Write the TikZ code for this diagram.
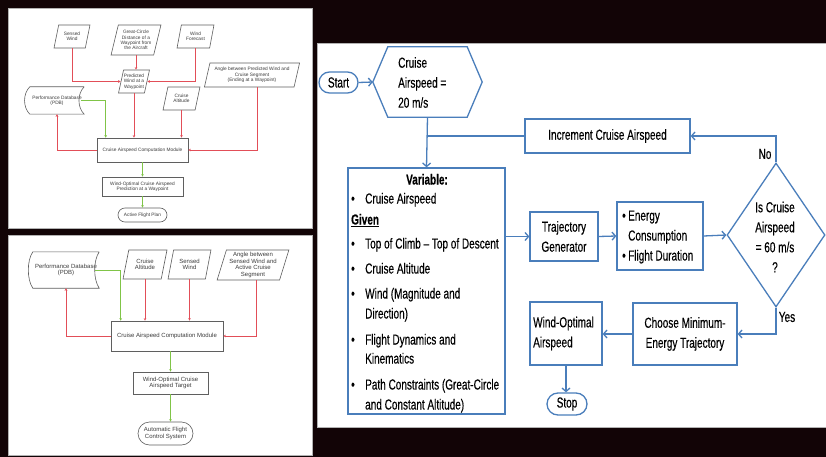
\documentclass[tikz,border=0pt]{standalone}
\usepackage{fontspec}
\setmainfont[FakeStretch=0.69,FakeBold=0.3]{Liberation Sans}
\newfontfamily\lsans{Liberation Sans}
\usetikzlibrary{shapes.geometric,shapes.misc,arrows.meta,calc}
\definecolor{bg}{RGB}{18,4,6}
\definecolor{bl}{RGB}{74,126,187}
\definecolor{rl}{RGB}{226,78,88}
\definecolor{gl}{RGB}{128,196,72}
\definecolor{bx}{RGB}{95,95,95}
\definecolor{tx}{RGB}{60,60,60}
\begin{document}
\begin{tikzpicture}[x=1pt,y=-1pt,
  panel/.style={fill=white,draw=gray!60,line width=0.8pt},
  lbox/.style={draw=bx,line width=0.6pt,fill=white,text=tx,align=center,inner sep=0pt},
  lsmall/.style={font=\lsans\fontsize{4.8}{5.3}\selectfont},
  lbig/.style={font=\lsans\fontsize{6}{6.6}\selectfont},
  para/.style={lbox,trapezium,trapezium left angle=72,trapezium right angle=108,trapezium stretches=true},
  lrect/.style={lbox,rectangle},
  lterm/.style={lbox,rounded rectangle},
  ltext/.style={text=tx,align=center,inner sep=0pt},
  dbline/.style={draw=bx,line width=0.6pt},
  rarr/.style={draw=rl,line width=0.6pt,-{Stealth[length=2.6pt,width=2.6pt]}},
  garr/.style={draw=gl,line width=0.6pt,-{Stealth[length=2.6pt,width=2.6pt]}},
  rbox/.style={draw=bl,line width=1.3pt,fill=white,font=\fontsize{14.5}{20}\selectfont,align=center,inner sep=0pt},
  rterm/.style={rbox,rounded rectangle},
  rtxt/.style={font=\fontsize{14.5}{20}\selectfont,inner sep=0pt},
  barr/.style={draw=bl,line width=1.3pt,-{Straight Barb[length=3.5pt,width=8pt]}},
  bline/.style={draw=bl,line width=1.3pt}
]
\useasboundingbox (0,0) rectangle (826,457);
\fill[bg] (0,0) rectangle (826,457);
\filldraw[panel] (8,8) rectangle (312,228);
\filldraw[panel] (8,235) rectangle (312,455);
\filldraw[panel] (317,43) rectangle (827,427);

% ---------------- top-left panel ----------------
\node[para,lsmall,minimum width=36pt,minimum height=23pt] (sw) at (72,36.5) {Sensed\\Wind};
\node[para,lsmall,minimum width=50pt,minimum height=30pt] (gc) at (136,40) {Great-Circle\\Distance of a\\Waypoint from\\the Aircraft};
\node[para,lsmall,minimum width=37pt,minimum height=23pt] (wf) at (195.5,36.5) {Wind\\Forecast};
\node[para,lsmall,minimum width=31pt,minimum height=23pt] (pw) at (134,81.5) {Predicted\\Wind at a\\Waypoint};
\node[para,lsmall,minimum width=96pt,minimum height=24pt] (an) at (252,75) {Angle between Predicted Wind and\\Cruise Segment\\(Ending at a Waypoint)};
\node[ltext,lsmall,minimum width=54pt,minimum height=27pt] (pdb) at (57,100.5) {Performance Database\\(PDB)};
\draw[dbline] (pdb.north east) -- (pdb.north west) .. controls +(-7,7) and +(-7,-7) .. (pdb.south west) -- (pdb.south east) .. controls +(-7,-7) and +(-7,7) .. (pdb.north east);
\node[para,lsmall,minimum width=37pt,minimum height=23pt] (ca) at (181.5,98.5) {Cruise\\Altitude};
\node[lrect,lsmall,minimum width=91pt,minimum height=24pt] (cm) at (142.5,150) {Cruise Airspeed Computation Module};
\node[lrect,lsmall,minimum width=81pt,minimum height=19pt] (wo) at (142.5,186.5) {Wind-Optimal Cruise Airspeed\\Prediction at a Waypoint};
\node[lterm,lsmall,minimum width=49pt,minimum height=14pt] (afp) at (142.5,215) {Active Flight Plan};

\draw[rarr] (sw.south) |- (pw.west);
\draw[rarr] (gc.south) -- (gc.south |- pw.north);
\draw[rarr] (wf.south) |- (pw.east);
\draw[rarr] (pw.south) -- (pw.south |- cm.north);
\draw[rarr] (ca.south) -- (ca.south |- cm.north);
\draw[rarr] ([xshift=5pt]an.south) |- (cm.east);
\draw[garr] ([xshift=-3pt]pdb.east) -| ([xshift=9pt]cm.north west);
\draw[rarr] (cm.west) -| (pdb.south);
\draw[garr] (cm.south) -- (wo.north);
\draw[garr] (wo.south) -- (afp.north);

% ---------------- bottom-left panel ----------------
\node[ltext,lbig,minimum width=66pt,minimum height=36pt] (pdb2) at (66,270) {Performance Database\\(PDB)};
\draw[dbline] (pdb2.north east) -- (pdb2.north west) .. controls +(-6,9) and +(-6,-9) .. (pdb2.south west) -- (pdb2.south east) .. controls +(-6,-9) and +(-6,9) .. (pdb2.north east);
\node[para,lbig,minimum width=44pt,minimum height=29pt] (ca2) at (145,264.5) {Cruise\\Altitude};
\node[para,lbig,minimum width=43pt,minimum height=29pt] (sw2) at (189.5,264.5) {Sensed\\Wind};
\node[para,lbig,minimum width=72pt,minimum height=30pt] (an2) at (253,265) {Angle between\\Sensed Wind and\\Active Cruise\\Segment};
\node[lrect,lbig,minimum width=112pt,minimum height=30pt] (cm2) at (167,336) {Cruise Airspeed Computation Module};
\node[lrect,lbig,minimum width=75pt,minimum height=22pt] (wt) at (170.5,383) {Wind-Optimal Cruise\\Airspeed Target};
\node[lterm,lbig,minimum width=55pt,minimum height=23pt] (afcs) at (165.5,433.5) {Automatic Flight\\Control System};

\draw[garr] ([xshift=-4pt]pdb2.east) -| ([xshift=10pt]cm2.north west);
\draw[rarr] (ca2.south) -- (ca2.south |- cm2.north);
\draw[rarr] (sw2.south) -- (sw2.south |- cm2.north);
\draw[rarr] ([xshift=3pt]an2.south) |- (cm2.east);
\draw[rarr] (cm2.west) -| (pdb2.south);
\draw[garr] (wt.north |- cm2.south) -- (wt.north);
\draw[garr] (wt.south) -- (wt.south |- afcs.north);

% ---------------- right panel ----------------
\node[rterm,minimum width=39pt,minimum height=21pt] (start) at (338.5,82.5) {Start};
\node[minimum width=109pt,minimum height=70pt,inner sep=0pt] (hex) at (427.5,82) {};
\draw[bline,fill=white] (hex.west) -- ([xshift=15pt]hex.north west) -- ([xshift=-15pt]hex.north east) -- (hex.east) -- ([xshift=-15pt]hex.south east) -- ([xshift=15pt]hex.south west) -- cycle;
\node[rtxt,align=left,anchor=west] (hext) at (398,82.5) {Cruise\\Airspeed =\\20 m/s};
\node[rbox,minimum width=165pt,minimum height=34pt] (inc) at (607.5,136) {Increment Cruise Airspeed};
\node[rbox,minimum width=157pt,minimum height=246pt] (var) at (426.5,291) {};
\node[rbox,minimum width=68pt,minimum height=49pt] (traj) at (564,236.5) {Trajectory\\Generator};
\node[rbox,minimum width=86pt,minimum height=68pt] (en) at (660,236) {};
\node[diamond,draw=bl,line width=1.3pt,fill=white,minimum width=98pt,minimum height=144pt,inner sep=0pt] (dia) at (776,235) {};
\node[rtxt,align=center] (diat) at (775,237) {Is Cruise\\Airspeed\\= 60 m/s\\?};
\node[rbox,minimum width=104pt,minimum height=62pt] (ch) at (685,334) {Choose Minimum-\\Energy Trajectory};
\node[rbox,minimum width=72pt,minimum height=63pt] (wa) at (566,333.5) {};
\node[rtxt,align=left,anchor=west] (wat) at (533,333.5) {Wind-Optimal\\Airspeed};
\node[rterm,minimum width=40pt,minimum height=22pt] (stop) at (567,404) {Stop};

% variable box text
\node[rtxt,anchor=base] (v0) at (427,184.5) {\textbf{Variable:}};
\node[rtxt,anchor=base west] (v1) at (351,203.5) {\makebox[14pt][l]{•}Cruise Airspeed};
\node[rtxt,anchor=base west] (v2) at (351,224.5) {\underline{\textbf{Given}}};
\node[rtxt,anchor=base west] (v3) at (351,248.5) {\makebox[14pt][l]{•}Top of Climb – Top of Descent};
\node[rtxt,anchor=base west] (v4) at (351,273.5) {\makebox[14pt][l]{•}Cruise Altitude};
\node[rtxt,anchor=base west] (v5) at (351,298.5) {\makebox[14pt][l]{•}Wind (Magnitude and};
\node[rtxt,anchor=base west] (v6) at (365,318.5) {Direction)};
\node[rtxt,anchor=base west] (v7) at (351,344.5) {\makebox[14pt][l]{•}Flight Dynamics and};
\node[rtxt,anchor=base west] (v8) at (365,363.5) {Kinematics};
\node[rtxt,anchor=base west] (v9) at (351,389.5) {\makebox[14pt][l]{•}Path Constraints (Great-Circle};
\node[rtxt,anchor=base west] (v10) at (365,409.5) {and Constant Altitude)};

% energy box text
\node[rtxt,anchor=base west] (e1) at (622,220.5) {\makebox[6pt][l]{•}Energy};
\node[rtxt,anchor=base west] (e2) at (628,240.5) {Consumption};
\node[rtxt,anchor=base west] (e3) at (622,260.5) {\makebox[6pt][l]{•}Flight Duration};

% labels
\node[rtxt] (no) at (765,154) {No};
\node[rtxt] (yes) at (787,317) {Yes};

% connectors
\draw[barr] (start.east) -- (hex.west);
\draw[barr] (hex.south) -- (var.north);
\draw[bline] (inc.west) -- (inc.west -| hex.south);
\draw[barr] (dia.north) |- (inc.east);
\draw[barr] (traj.west -| var.east) -- (traj.west);
\draw[barr] (traj.east) -- (en.west);
\draw[barr] (en.east) -- (dia.west);
\draw[barr] (dia.south) |- (ch.east);
\draw[barr] (ch.west) -- (ch.west -| wa.east);
\draw[barr] (wa.south) -- (wa.south |- stop.north);
\end{tikzpicture}
\end{document}
